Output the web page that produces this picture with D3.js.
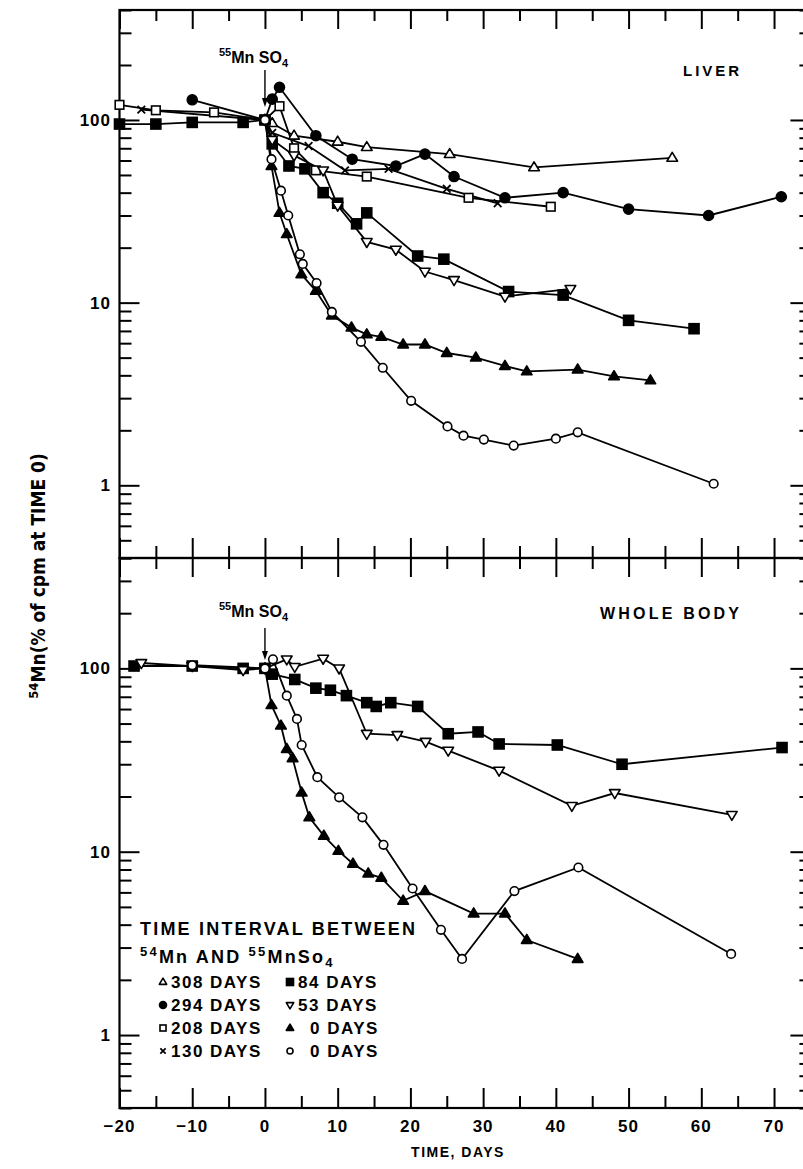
<!DOCTYPE html>
<html>
<head>
<meta charset="utf-8">
<script src="https://cdn.jsdelivr.net/npm/d3@7"></script>
<style>
  body { margin: 0; background: #fff; }
  text { font-family: "Liberation Sans", Arial, sans-serif; fill: #000; }
</style>
</head>
<body>
<div id="chart"></div>
<script>
// ---- data: [day, % of cpm at time 0] ----
const xTickValues = [-20, -10, 0, 10, 20, 30, 40, 50, 60, 70];
const yTickValues = [100, 10, 1];

// LIVER panel
const liver308 = [[0,100],[1,96],[4,82],[10,76],[14,71],[25.4,65],[37,55],[56,62]];
const liver294 = [[-10,129],[0,100],[1,130],[2,151],[7,82],[12,61],[18,56],[22,65],[26,49],[33,37.5],[41,40],[50,32.5],[61,30],[71,38]];
const liver208 = [[-20,121],[-15,113],[-7,110],[0,100],[2,119],[4,70],[7,53],[14,49],[28,37.5],[39.3,33.5]];
const liver130 = [[-17,114],[0,100],[1,85],[6,72],[11,53],[17,54],[25,42],[32,35]];
const liver84 = [[-20,95],[-15,95],[-10,97],[-3,97],[0,100],[1,74],[3.3,56],[5.5,54],[8,40],[10,35],[12.6,27],[14,31],[21,18],[24.6,17.3],[33.5,11.5],[41,11],[50,8],[59,7.2]];
const liver53 = [[0,100],[1,78],[4,64],[8,53],[10,34],[14,21.5],[18,19.5],[22,14.8],[26,13.3],[33,10.8],[42,11.9]];
const liver0f = [[0,100],[0.9,56],[2,31],[3,23.7],[5,14.3],[7,11.6],[9.2,8.5],[11.9,7.3],[14,6.7],[16,6.5],[19,5.9],[22,5.9],[25,5.3],[29,5.0],[33,4.5],[36,4.2],[43,4.3],[48,3.95],[53,3.75]];
const liver0o = [[0,100],[0.9,61],[2.2,41],[3.2,30],[4.8,18.4],[5.2,16.3],[7.1,12.8],[9.2,8.9],[13.2,6.1],[16.2,4.4],[20.1,2.9],[25.1,2.1],[27.3,1.87],[30.1,1.78],[34.2,1.65],[40,1.8],[43,1.95],[61.7,1.02]];

// WHOLE BODY panel
const body84 = [[-18,103],[-10,103],[-3,100],[0,100],[1,93],[4.1,87],[7,78],[9,76],[11.2,71],[14,65],[15.3,62],[17.3,65],[21,62],[25.2,44],[29.3,45],[32.2,38.7],[40.2,38.2],[49.1,30],[71.1,37]];
const body53 = [[-17,107],[-10,103],[-3,98],[0,100],[3,112],[4.1,102],[8,113],[10.2,100],[14,44],[18.2,43.3],[22.1,39.8],[25.2,35.6],[32.2,27.7],[42.2,17.8],[48.1,20.9],[64.2,15.9]];
const body0f = [[0,100],[0.9,63],[2.2,48.7],[3,36.3],[3.8,32.3],[5.05,21],[6.1,15.4],[8.1,12.2],[10.1,10.1],[12.1,8.6],[14.2,7.6],[16,7.2],[19,5.4],[22,6.1],[28.7,4.6],[33,4.6],[36,3.3],[43,2.6]];
const body0o = [[-10,104],[0,100],[1.1,112],[3,71],[4.4,53],[5.05,38.2],[7.2,25.5],[10.2,19.8],[13.4,15.4],[16.3,10.9],[20.3,6.3],[24.2,3.75],[27.1,2.6],[34.3,6.1],[43.1,8.2],[64.1,2.77]];

// legend entries (marker kind, label, indent)
const legendLeft = [["tri","308 DAYS",0],["dot","294 DAYS",0],["sq","208 DAYS",0],["x","130 DAYS",0]];
const legendRight = [["fsq","84 DAYS",0],["itri","53 DAYS",0],["ftri","0 DAYS",12],["circ","0 DAYS",12]];

// ---- layout ----
const W = 803, H = 1169;
const svg = d3.select("#chart").append("svg")
  .attr("width", W).attr("height", H);

const x = d3.scaleLinear().domain([-20, 75]).range([119.5, 810.4]);
const yTop = d3.scaleLog().domain([0.4, 400]).range([558, 10]);
const yBot = d3.scaleLog().domain([0.4, 400]).range([1108, 558]);

// minor ticks on log axis: 2..9 in every decade
const yMinor = [];
[0.1, 1, 10, 100].forEach(dec => {
  for (let k = 2; k <= 9; k++) {
    const v = +(k * dec).toPrecision(3);
    if (v >= 0.4 && v <= 400) yMinor.push(v);
  }
});
const xMinor = d3.range(-15, 80, 10);

// draw one marker
function marker(g, kind, cx, cy, s) {
  s = s || 1;
  const sw = 1.6;
  if (kind === "circ" || kind === "dot") {
    g.append("circle").attr("cx", cx).attr("cy", cy)
      .attr("r", (kind === "dot" ? 5 : 4.3) * s)
      .attr("fill", kind === "dot" ? "#000" : "#fff")
      .attr("stroke", "#000").attr("stroke-width", sw);
  } else if (kind === "sq" || kind === "fsq") {
    const h = (kind === "fsq" ? 5 : 4.3) * s;
    g.append("rect").attr("x", cx - h).attr("y", cy - h)
      .attr("width", 2 * h).attr("height", 2 * h)
      .attr("fill", kind === "fsq" ? "#000" : "#fff")
      .attr("stroke", "#000").attr("stroke-width", sw);
  } else if (kind === "tri" || kind === "ftri" || kind === "itri") {
    const a = 5.6 * s;
    const dir = kind === "itri" ? -1 : 1;
    const pts = [[cx, cy - dir * a], [cx - a * 0.95, cy + dir * a * 0.6], [cx + a * 0.95, cy + dir * a * 0.6]];
    g.append("polygon").attr("points", pts.map(p => p.join(",")).join(" "))
      .attr("fill", kind === "ftri" ? "#000" : "#fff")
      .attr("stroke", "#000").attr("stroke-width", sw).attr("stroke-linejoin", "round");
  } else if (kind === "x") {
    const a = 3.8 * s;
    g.append("path")
      .attr("d", `M${cx - a},${cy - a}L${cx + a},${cy + a}M${cx - a},${cy + a}L${cx + a},${cy - a}`)
      .attr("stroke", "#000").attr("stroke-width", 1.8);
  }
}

function drawSeries(y, list) {
  const line = d3.line().x(d => x(d[0])).y(d => y(d[1]));
  const g = svg.append("g");
  // lines first, symbols on top
  list.forEach(([kind, data]) => {
    g.append("path").datum(data).attr("d", line)
      .attr("fill", "none").attr("stroke", "#000").attr("stroke-width", 1.8);
  });
  list.forEach(([kind, data]) => {
    data.forEach(d => marker(g, kind, x(d[0]), y(d[1])));
  });
}

// ---- frame and axes ----
function frameAxes(y, y0, y1) {
  const axG = svg.append("g").attr("class", "axes");
  const style = sel => {
    sel.select(".domain").remove();
    sel.selectAll("line").attr("stroke", "#000").attr("stroke-width", 2);
  };
  // left
  axG.append("g").attr("transform", `translate(${x(-20)},0)`)
    .call(d3.axisLeft(y).tickValues(yTickValues).tickSize(-20).tickFormat(""))
    .call(style);
  axG.append("g").attr("transform", `translate(${x(-20)},0)`)
    .call(d3.axisLeft(y).tickValues(yMinor).tickSize(-12).tickFormat(""))
    .call(style);
  // right
  axG.append("g").attr("transform", `translate(${x(75)},0)`)
    .call(d3.axisRight(y).tickValues(yTickValues).tickSize(-20).tickFormat(""))
    .call(style);
  axG.append("g").attr("transform", `translate(${x(75)},0)`)
    .call(d3.axisRight(y).tickValues(yMinor).tickSize(-11).tickFormat(""))
    .call(style);
  // top and bottom edge ticks
  axG.append("g").attr("transform", `translate(0,${y0})`)
    .call(d3.axisTop(x).tickValues(xTickValues).tickSize(-19).tickFormat(""))
    .call(style);
  axG.append("g").attr("transform", `translate(0,${y0})`)
    .call(d3.axisTop(x).tickValues(xMinor).tickSize(-11).tickFormat(""))
    .call(style);
  axG.append("g").attr("transform", `translate(0,${y1})`)
    .call(d3.axisBottom(x).tickValues(xTickValues).tickSize(-20).tickFormat(""))
    .call(style);
  axG.append("g").attr("transform", `translate(0,${y1})`)
    .call(d3.axisBottom(x).tickValues(xMinor).tickSize(-12).tickFormat(""))
    .call(style);
  // box
  axG.append("rect").attr("x", x(-20)).attr("y", y0)
    .attr("width", x(75) - x(-20)).attr("height", y1 - y0)
    .attr("fill", "none").attr("stroke", "#000").attr("stroke-width", 2.2);
  // y labels
  yTickValues.forEach(v => {
    axG.append("text").attr("x", 111).attr("y", y(v) + 6)
      .attr("text-anchor", "end").attr("font-size", 17).attr("font-weight", "bold")
      .attr("letter-spacing", 1).text(v);
  });
}

frameAxes(yTop, 10, 558);
frameAxes(yBot, 558, 1108);

// x tick labels
xTickValues.forEach(v => {
  svg.append("text").attr("x", x(v)).attr("y", 1132)
    .attr("text-anchor", "middle").attr("font-size", 17).attr("font-weight", "bold")
    .attr("letter-spacing", 1).text(v < 0 ? "\u2212" + Math.abs(v) : v);
});
svg.append("text").attr("x", 458).attr("y", 1157)
  .attr("text-anchor", "middle").attr("font-size", 14).attr("font-weight", "bold")
  .attr("letter-spacing", 1.5).text("TIME, DAYS");

// y title
const yt = svg.append("text")
  .attr("transform", "translate(45,576) rotate(-90)")
  .attr("text-anchor", "middle")
  .style("font-family", "'DejaVu Sans Condensed','DejaVu Sans',sans-serif")
  .attr("font-size", 19).attr("font-weight", "bold");
yt.append("tspan").attr("font-size", 13).attr("dy", -7).text("54");
yt.append("tspan").attr("dy", 7).text("Mn(% of cpm at TIME 0)");

// ---- series ----
drawSeries(yTop, [
  ["tri", liver308], ["dot", liver294], ["sq", liver208], ["x", liver130],
  ["fsq", liver84], ["itri", liver53], ["ftri", liver0f], ["circ", liver0o]
]);
drawSeries(yBot, [
  ["fsq", body84], ["itri", body53], ["ftri", body0f], ["circ", body0o]
]);

// ---- annotations ----
function mnso4(xc, yb, sub) {
  const t = svg.append("text").attr("x", xc).attr("y", yb)
    .attr("font-size", 16).attr("font-weight", "bold");
  t.append("tspan").attr("font-size", 11).attr("dy", -7).text("55");
  t.append("tspan").attr("dy", 7).text("Mn SO");
  t.append("tspan").attr("font-size", 11).attr("dy", 4).text(sub);
}
function arrow(y0, y1) {
  svg.append("line").attr("x1", x(0)).attr("x2", x(0)).attr("y1", y0).attr("y2", y1 - 6)
    .attr("stroke", "#000").attr("stroke-width", 1.4);
  svg.append("path")
    .attr("d", `M${x(0) - 3},${y1 - 9}L${x(0) + 3},${y1 - 9}L${x(0)},${y1}Z`)
    .attr("fill", "#000");
}
mnso4(219, 63, "4");
arrow(70, 107);
mnso4(219, 617, "4");
arrow(628, 660);

svg.append("text").attr("x", 683).attr("y", 76)
  .attr("font-size", 15).attr("font-weight", "bold").attr("letter-spacing", 3).text("LIVER");
svg.append("text").attr("x", 600).attr("y", 619)
  .attr("font-size", 16).attr("font-weight", "bold").attr("letter-spacing", 3.2).text("WHOLE BODY");

// ---- legend ----
const lg = svg.append("g");
lg.append("text").attr("x", 140).attr("y", 935)
  .attr("font-size", 18).attr("font-weight", "bold").attr("letter-spacing", 2.2)
  .text("TIME INTERVAL BETWEEN");
const l2 = lg.append("text").attr("x", 140).attr("y", 963)
  .attr("font-size", 18).attr("font-weight", "bold").attr("letter-spacing", 2.2);
l2.append("tspan").attr("font-size", 13).attr("dy", -7).text("54");
l2.append("tspan").attr("dy", 7).text("Mn AND ");
l2.append("tspan").attr("font-size", 13).attr("dy", -7).text("55");
l2.append("tspan").attr("dy", 7).text("MnSo");
l2.append("tspan").attr("font-size", 13).attr("dy", 4).text("4");

const rowY = [988, 1011, 1034, 1057];
legendLeft.forEach(([kind, label, ind], i) => {
  marker(lg, kind, 163, rowY[i] - 6, 0.7);
  lg.append("text").attr("x", 171 + ind).attr("y", rowY[i])
    .attr("font-size", 17).attr("font-weight", "bold").attr("letter-spacing", 1.5).text(label);
});
legendRight.forEach(([kind, label, ind], i) => {
  marker(lg, kind, 290, rowY[i] - 6, 0.7);
  lg.append("text").attr("x", 298 + ind).attr("y", rowY[i])
    .attr("font-size", 17).attr("font-weight", "bold").attr("letter-spacing", 1.5).text(label);
});
</script>
</body>
</html>
